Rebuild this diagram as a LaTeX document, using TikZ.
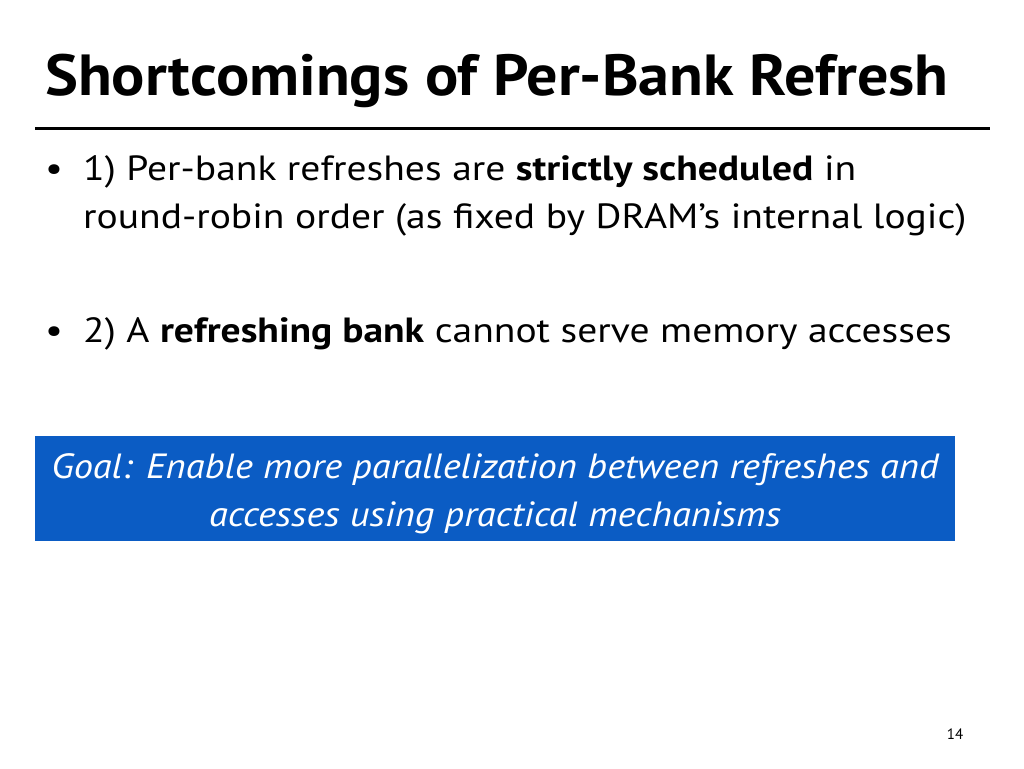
\documentclass[tikz,border=0pt]{standalone}
\usepackage{fontspec}
\setmainfont{PT Sans}
\definecolor{goalblue}{HTML}{0B5CC4}
\begin{document}
\begin{tikzpicture}[x=1pt,y=-1pt,
  body/.style={anchor=base west,inner sep=0pt,xscale=1.13,transform shape,font=\fontsize{35}{40}\selectfont},
  goal/.style={anchor=base,inner sep=0pt,text=white,xscale=1.1,transform shape,font=\fontsize{35}{40}\selectfont\itshape}]
\useasboundingbox[fill=white] (0,0) rectangle (1024,768);
\node[anchor=base west,inner sep=0pt,xscale=1.07,transform shape,font=\fontsize{58}{64}\selectfont\bfseries] (title) at (45,95) {Shortcomings of Per-Bank Refresh};
\draw[line width=3pt] (35,128) coordinate (l1) -- (990,128) coordinate (l2);
\node[body] (b1) at (45,180) {•};
\node[body] (t1) at (83,180) {1) Per-bank refreshes are \textbf{strictly scheduled} in};
\node[body] (t1b) at (83,228) {round-robin order (as fixed by DRAM’s internal logic)};
\node[body] (b2) at (45,342) {•};
\node[body] (t2) at (83,342) {2) A \textbf{refreshing bank} cannot serve memory accesses};
\fill[goalblue] (35,436) rectangle (955,541);
\node[goal] (g1) at (495,478) {Goal: Enable more parallelization between refreshes and};
\node[goal] (g2) at (495,526) {accesses using practical mechanisms};
\node[anchor=base,inner sep=0pt,font=\fontsize{15}{18}\selectfont] (pg) at (955,739) {14};
\end{tikzpicture}
\end{document}
